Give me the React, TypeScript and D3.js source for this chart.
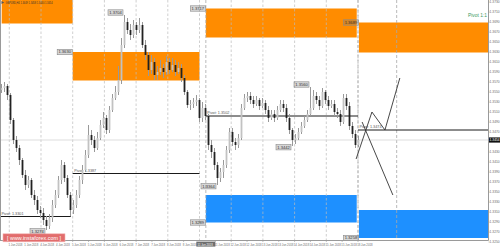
import React from "react";
import * as d3 from "d3";

// ---- data ----
const opens = [
  1.3554, 1.3558, 1.3562, 1.3544, 1.3494, 1.3454, 1.3438, 1.3414, 1.3384, 1.3364,
  1.3374, 1.3344, 1.3334, 1.3314, 1.3308, 1.3294, 1.3282, 1.3298, 1.3324, 1.3344,
  1.3374, 1.3404, 1.3378, 1.3344, 1.3314, 1.3324, 1.3344, 1.3374, 1.3394, 1.3424,
  1.3464, 1.3454, 1.3438, 1.3458, 1.3484, 1.3498, 1.3474, 1.3514, 1.3538, 1.3550,
  1.3574, 1.3644, 1.3690, 1.3674, 1.3664, 1.3684, 1.3674, 1.3684, 1.3644, 1.3624,
  1.3594, 1.3610, 1.3584, 1.3590, 1.3598, 1.3590, 1.3610, 1.3594, 1.3604, 1.3590,
  1.3598, 1.3578, 1.3550, 1.3524, 1.3526, 1.3530, 1.3534, 1.3498, 1.3518, 1.3502,
  1.3444, 1.3430, 1.3404, 1.3378, 1.3390, 1.3404, 1.3434, 1.3470, 1.3450, 1.3444,
  1.3458, 1.3518, 1.3538, 1.3542, 1.3534, 1.3526, 1.3534, 1.3522, 1.3528, 1.3514,
  1.3498, 1.3506, 1.3498, 1.3514, 1.3526, 1.3518, 1.3498, 1.3474, 1.3454, 1.3458,
  1.3470, 1.3482, 1.3494, 1.3506, 1.3518, 1.3542, 1.3534, 1.3522, 1.3550, 1.3534,
  1.3522, 1.3526, 1.3510, 1.3506, 1.3490, 1.3538, 1.3522, 1.3482, 1.3466, 1.3444,
];
const highs = [
  1.3566, 1.3570, 1.3566, 1.3548, 1.3498, 1.3462, 1.3444, 1.3418, 1.3394, 1.3382,
  1.3378, 1.3354, 1.3342, 1.3322, 1.3318, 1.3302, 1.3306, 1.3334, 1.3354, 1.3382,
  1.3414, 1.3410, 1.3384, 1.3350, 1.3334, 1.3354, 1.3382, 1.3404, 1.3434, 1.3484,
  1.3474, 1.3462, 1.3470, 1.3494, 1.3510, 1.3504, 1.3522, 1.3546, 1.3562, 1.3602,
  1.3658, 1.3704, 1.3698, 1.3686, 1.3694, 1.3690, 1.3698, 1.3690, 1.3654, 1.3630,
  1.3624, 1.3618, 1.3602, 1.3614, 1.3606, 1.3622, 1.3618, 1.3618, 1.3614, 1.3610,
  1.3606, 1.3584, 1.3554, 1.3534, 1.3538, 1.3544, 1.3538, 1.3530, 1.3526, 1.3506,
  1.3454, 1.3438, 1.3410, 1.3398, 1.3414, 1.3442, 1.3478, 1.3478, 1.3458, 1.3466,
  1.3526, 1.3546, 1.3550, 1.3550, 1.3542, 1.3542, 1.3538, 1.3538, 1.3534, 1.3522,
  1.3514, 1.3514, 1.3522, 1.3534, 1.3534, 1.3526, 1.3506, 1.3478, 1.3466, 1.3478,
  1.3490, 1.3502, 1.3514, 1.3560, 1.3554, 1.3550, 1.3542, 1.3558, 1.3554, 1.3542,
  1.3534, 1.3534, 1.3518, 1.3514, 1.3546, 1.3546, 1.3530, 1.3490, 1.3474, 1.3462,
];
const lows = [
  1.3548, 1.3550, 1.3534, 1.3486, 1.3446, 1.3430, 1.3404, 1.3378, 1.3354, 1.3358,
  1.3338, 1.3324, 1.3306, 1.3298, 1.3284, 1.3274, 1.3276, 1.3290, 1.3318, 1.3338,
  1.3366, 1.3370, 1.3338, 1.3302, 1.3306, 1.3318, 1.3338, 1.3366, 1.3390, 1.3418,
  1.3444, 1.3430, 1.3434, 1.3454, 1.3478, 1.3466, 1.3468, 1.3510, 1.3534, 1.3544,
  1.3566, 1.3638, 1.3666, 1.3654, 1.3658, 1.3664, 1.3668, 1.3638, 1.3614, 1.3582,
  1.3586, 1.3574, 1.3574, 1.3584, 1.3578, 1.3584, 1.3586, 1.3590, 1.3582, 1.3586,
  1.3570, 1.3544, 1.3518, 1.3514, 1.3518, 1.3522, 1.3490, 1.3490, 1.3494, 1.3434,
  1.3418, 1.3394, 1.3364, 1.3370, 1.3378, 1.3398, 1.3428, 1.3442, 1.3434, 1.3438,
  1.3454, 1.3514, 1.3530, 1.3526, 1.3518, 1.3522, 1.3514, 1.3518, 1.3506, 1.3490,
  1.3494, 1.3490, 1.3494, 1.3510, 1.3510, 1.3490, 1.3466, 1.3442, 1.3446, 1.3454,
  1.3466, 1.3478, 1.3490, 1.3502, 1.3514, 1.3526, 1.3514, 1.3518, 1.3526, 1.3514,
  1.3518, 1.3502, 1.3498, 1.3482, 1.3486, 1.3514, 1.3474, 1.3458, 1.3438, 1.3440,
];
const closes = [
  1.3558, 1.3562, 1.3544, 1.3494, 1.3454, 1.3438, 1.3414, 1.3384, 1.3364, 1.3374,
  1.3344, 1.3334, 1.3314, 1.3308, 1.3294, 1.3282, 1.3298, 1.3324, 1.3344, 1.3374,
  1.3404, 1.3378, 1.3344, 1.3314, 1.3324, 1.3344, 1.3374, 1.3394, 1.3424, 1.3464,
  1.3454, 1.3438, 1.3458, 1.3484, 1.3498, 1.3474, 1.3514, 1.3538, 1.3550, 1.3574,
  1.3644, 1.3690, 1.3674, 1.3664, 1.3684, 1.3674, 1.3684, 1.3644, 1.3624, 1.3594,
  1.3610, 1.3584, 1.3590, 1.3598, 1.3590, 1.3610, 1.3594, 1.3604, 1.3590, 1.3598,
  1.3578, 1.3550, 1.3524, 1.3526, 1.3530, 1.3534, 1.3498, 1.3518, 1.3502, 1.3444,
  1.3430, 1.3404, 1.3378, 1.3390, 1.3404, 1.3434, 1.3470, 1.3450, 1.3444, 1.3458,
  1.3518, 1.3538, 1.3542, 1.3534, 1.3526, 1.3534, 1.3522, 1.3528, 1.3514, 1.3498,
  1.3506, 1.3498, 1.3514, 1.3526, 1.3518, 1.3498, 1.3474, 1.3454, 1.3458, 1.3470,
  1.3482, 1.3494, 1.3506, 1.3518, 1.3542, 1.3534, 1.3522, 1.3550, 1.3534, 1.3522,
  1.3526, 1.3510, 1.3506, 1.3490, 1.3538, 1.3522, 1.3482, 1.3466, 1.3444, 1.3454,
];

const priceTicks = [
  1.373, 1.371, 1.369, 1.367, 1.365, 1.363, 1.361, 1.359, 1.357, 1.355, 1.353, 1.351,
  1.349, 1.347, 1.345, 1.343, 1.341, 1.339, 1.337, 1.335, 1.333, 1.331, 1.329, 1.327, 1.325,
];
const gridDays = [0, 1, 2, 3, 4, 5, 6, 7, 8, 9, 10, 11];
const timeLabelDays = [
  0, 0.5, 1, 1.5, 2, 2.5, 3, 3.5, 4, 4.5, 5, 5.5, 6.5, 7, 7.5, 8, 8.5, 9, 9.5, 10, 10.5, 11,
];
const timeLabels = [
  "1 Jun 2018", "1 Jun 2018", "4 Jun 2018", "4 Jun 2018", "5 Jun 2018",
  "5 Jun 2018", "6 Jun 2018", "6 Jun 2018", "7 Jun 2018", "7 Jun 2018", "8 Jun 2018",
  "8 Jun 2018", "11 Jun 2018", "12 Jun 2018", "12 Jun 2018", "13 Jun 2018",
  "13 Jun 2018", "14 Jun 2018", "14 Jun 2018", "15 Jun 2018", "15 Jun 2018", "18 Jun 2018",
];
const separatorDays = [6.2, 11.0];
const markerDays = [12.22];
const separatorLabel = "11 Jun 2018";

const orangeZones = [
  { from: -0.24, to: 2.0, hi: 1.378, lo: 1.3687, label: "" },
  { from: 2.0, to: 6.0, hi: 1.363, lo: 1.3573, label: "hi" },
  { from: 6.2, to: 10.96, hi: 1.3717, lo: 1.3659, label: "hi" },
  { from: 11.03, to: 15.2, hi: 1.3689, lo: 1.3629, label: "hi" },
];
const blueZones = [
  { from: 6.2, to: 10.96, hi: 1.3344, lo: 1.3289, label: "lo" },
  { from: 11.03, to: 15.2, hi: 1.3314, lo: 1.3258, label: "lo" },
];
const pivots = [
  { from: -0.3, to: 1.94, price: 1.3301 },
  { from: 2.0, to: 6.0, price: 1.3387 },
  { from: 6.2, to: 11.0, price: 1.3502 },
  { from: 11.0, to: 15.2, price: 1.3474 },
];
const zigUpDays = [10.94, 11.44, 11.85, 12.32];
const zigUpPrices = [1.3416, 1.351, 1.3474, 1.3578];
const zigDownDays = [11.13, 12.1];
const zigDownPrices = [1.349, 1.3344];
const extremeBars = [41, 15, 72, 97, 103];
const extremeKinds = ["high", "low", "low", "low", "high"];

const headerText = "GBPUSD,H4  1.3449 1.3458 1.3440 1.3454";
const sideNote = "Pivot 1:1";
const watermark = "[ www.instaforex.com ]";

// ---- layout ----
const W = 500;
const H = 247;
const PLOT_R = 488.5;
const PLOT_B = 240.5;
const FONT = "'Liberation Sans', Arial, sans-serif";

export default function App() {
  const yScale = d3.scaleLinear().domain([1.3734, 1.3734 - 0.0002 * H]).range([0, H]);
  const xBar = d3.scaleLinear().domain([0, opens.length - 1]).range([1.5, 358.5]);
  const xDay = d3.scaleLinear().domain([0, 1]).range([9.3, 41]);
  const fmt = d3.format(".4f");
  const line = d3.line<[number, number]>().x((d) => d[0]).y((d) => d[1]);

  const lastClose = closes[closes.length - 1];
  const yLast = yScale(lastClose);

  const zoneRects = (zones: typeof orangeZones, color: string) =>
    zones.map((z, i) => {
      const x0 = xDay(z.from);
      const x1 = xDay(z.to);
      const y0 = yScale(z.hi);
      const y1 = yScale(z.lo);
      return (
        <rect key={color + i} x={x0} y={y0} width={x1 - x0} height={y1 - y0} fill={color} />
      );
    });

  const priceTag = (key: string, xRight: number, yc: number, text: string) => (
    <g key={key}>
      <rect
        x={xRight - 15}
        y={yc - 2.7}
        width={15}
        height={5.4}
        fill="rgba(120,120,120,0.3)"
        stroke="#8a8a8a"
        strokeWidth={0.6}
      />
      <text
        x={xRight - 7.5}
        y={yc + 1.4}
        fontSize={4}
        textAnchor="middle"
        fill="#333"
        textLength={12.5}
        lengthAdjust="spacingAndGlyphs"
        fontFamily={FONT}
      >
        {text}
      </text>
    </g>
  );

  return (
    <svg
      width={W}
      height={H}
      viewBox={`0 0 ${W} ${H}`}
      style={{ position: "fixed", left: 0, top: 0, display: "block", background: "#fff" }}
    >
      <defs>
        <clipPath id="plot">
          <rect x={0} y={0} width={PLOT_R} height={PLOT_B} />
        </clipPath>
      </defs>
      <rect x={0} y={0} width={W} height={H} fill="#fff" />

      <g clipPath="url(#plot)">
        {zoneRects(orangeZones, "#ff8c00")}
        {zoneRects(blueZones, "#1e90ff")}

        {gridDays.map((d) => (
          <line
            key={"g" + d}
            x1={xDay(d)}
            x2={xDay(d)}
            y1={0}
            y2={PLOT_B}
            stroke="#bcbcbc"
            strokeWidth={0.7}
            strokeDasharray="2.5,2"
          />
        ))}
        {[...separatorDays, ...markerDays].map((d) => (
          <line
            key={"s" + d}
            x1={xDay(d)}
            x2={xDay(d)}
            y1={0}
            y2={PLOT_B}
            stroke="#a8a8a8"
            strokeWidth={0.8}
            strokeDasharray="3,2"
          />
        ))}

        {/* bid line */}
        <line x1={0} x2={PLOT_R} y1={yLast} y2={yLast} stroke="#d4d4d4" strokeWidth={0.8} />

        {/* pivots */}
        {pivots.map((p, i) => {
          const x0 = Math.max(0, xDay(p.from));
          const y = yScale(p.price);
          return (
            <g key={"p" + i}>
              <line x1={x0} x2={xDay(p.to)} y1={y} y2={y} stroke="#1a1a1a" strokeWidth={1} />
              <text
                x={x0 + 1.5}
                y={y - 1.6}
                fontSize={3.8}
                fill="#555"
                textLength={22}
                lengthAdjust="spacingAndGlyphs"
                fontFamily={FONT}
              >
                {"Pivot: " + fmt(p.price)}
              </text>
            </g>
          );
        })}

        {/* candles */}
        {opens.map((o, i) => {
          const c = closes[i];
          const x = xBar(i);
          const top = yScale(Math.max(o, c));
          const bot = yScale(Math.min(o, c));
          const bear = c < o;
          return (
            <g key={"c" + i}>
              <line
                x1={x}
                x2={x}
                y1={yScale(highs[i])}
                y2={yScale(lows[i])}
                stroke="#999"
                strokeWidth={1}
              />
              <rect
                x={x - 0.9}
                y={top}
                width={1.8}
                height={Math.max(1, bot - top)}
                fill={bear ? "#222" : "#c2c2c2"}
              />
            </g>
          );
        })}

        {/* projection zigzags */}
        <path
          d={line(zigUpDays.map((d, i) => [xDay(d), yScale(zigUpPrices[i])]))!}
          fill="none"
          stroke="#333"
          strokeWidth={0.9}
        />
        <path
          d={line(zigDownDays.map((d, i) => [xDay(d), yScale(zigDownPrices[i])]))!}
          fill="none"
          stroke="#333"
          strokeWidth={0.9}
        />

        {/* extreme price tags */}
        {extremeBars.map((b, i) => {
          const isHigh = extremeKinds[i] === "high";
          const v = isHigh ? highs[b] : lows[b];
          const yc = yScale(v) + (isHigh ? -2.5 : 1.2);
          return priceTag("e" + i, xBar(b) - 1.5, yc, fmt(v));
        })}

        {/* zone price tags */}
        {[...orangeZones, ...blueZones].map((z, i) =>
          z.label
            ? priceTag(
                "z" + i,
                xDay(z.from) - 0.5,
                yScale(z.label === "hi" ? z.hi : z.lo),
                fmt(z.label === "hi" ? z.hi : z.lo)
              )
            : null
        )}

        {/* side note */}
        <text
          x={PLOT_R - 1.5}
          y={17}
          fontSize={4.6}
          textAnchor="end"
          fill="#3c9a5f"
          textLength={19}
          lengthAdjust="spacingAndGlyphs"
          fontFamily={FONT}
        >
          {sideNote}
        </text>
      </g>

      {/* frame lines */}
      <line x1={0.5} x2={0.5} y1={0} y2={PLOT_B} stroke="#9a9a9a" strokeWidth={1} />
      <line x1={PLOT_R} x2={PLOT_R} y1={0} y2={PLOT_B} stroke="#9a9a9a" strokeWidth={1} />
      <line x1={0} x2={PLOT_R} y1={PLOT_B} y2={PLOT_B} stroke="#9a9a9a" strokeWidth={1} />

      {/* right price axis */}
      {priceTicks
        .filter((t) => Math.abs(yScale(t) - yLast) > 4)
        .map((t) => (
          <g key={"t" + t}>
            <line
              x1={PLOT_R}
              x2={PLOT_R + 1.3}
              y1={yScale(t)}
              y2={yScale(t)}
              stroke="#999"
              strokeWidth={0.6}
            />
            <text
              x={489.6}
              y={Math.min(yScale(t) + 1.2, 246)}
              fontSize={3.3}
              fill="#6a6a6a"
              fontFamily={FONT}
            >
              {fmt(t)}
            </text>
          </g>
        ))}
      <rect x={489} y={yLast - 2.6} width={11} height={5.2} fill="#111" />
      <text x={489.6} y={yLast + 1.2} fontSize={3.3} fill="#fff" fontFamily={FONT}>
        {fmt(lastClose)}
      </text>

      {/* bottom time axis */}
      {timeLabelDays.map((d, i) => (
        <g key={"tl" + i}>
          <line
            x1={xDay(d)}
            x2={xDay(d)}
            y1={PLOT_B}
            y2={PLOT_B + 1.5}
            stroke="#999"
            strokeWidth={0.6}
          />
          <text x={xDay(d) - 0.8} y={245.6} fontSize={2.8} fill="#6a6a6a" fontFamily={FONT}>
            {timeLabels[i]}
          </text>
        </g>
      ))}
      <rect x={xDay(separatorDays[0]) - 9.5} y={241.6} width={19} height={5} fill="#6e6e6e" />
      <text
        x={xDay(separatorDays[0]) - 8.3}
        y={245.6}
        fontSize={2.8}
        fill="#fff"
        fontFamily={FONT}
      >
        {separatorLabel}
      </text>

      {/* header */}
      <path d="M1.5,1 L4.2,2.5 L1.5,4 Z" fill="#555" />
      <text
        x={5.5}
        y={3.6}
        fontSize={3.6}
        fill="#333"
        textLength={47}
        lengthAdjust="spacingAndGlyphs"
        fontFamily={FONT}
      >
        {headerText}
      </text>

      {/* watermark */}
      <rect x={3} y={233.8} width={62} height={8} fill="#e26d6d" stroke="#f3b3b3" strokeWidth={0.6} />
      <text
        x={34}
        y={239.6}
        fontSize={5}
        textAnchor="middle"
        fill="#fff"
        textLength={54}
        lengthAdjust="spacingAndGlyphs"
        fontFamily={FONT}
      >
        {watermark}
      </text>
    </svg>
  );
}
